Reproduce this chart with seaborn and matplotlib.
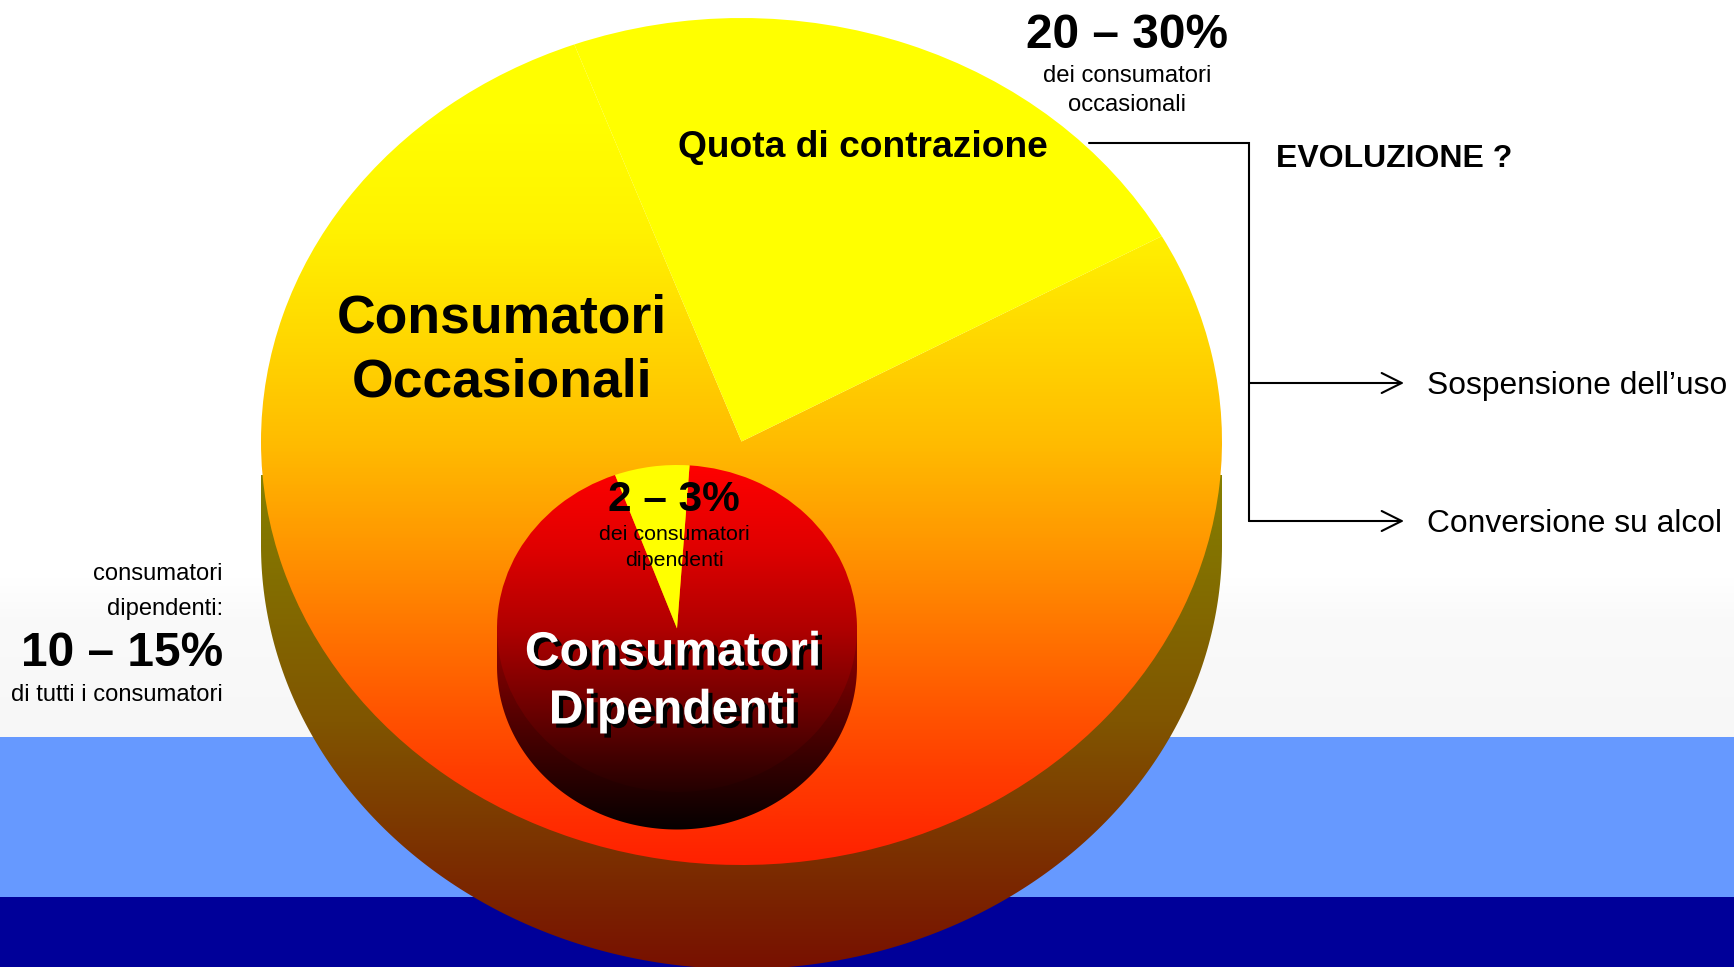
import numpy as np
import matplotlib
matplotlib.use('Agg')
import matplotlib.pyplot as plt
import matplotlib.patheffects as pe
from matplotlib.patches import Polygon
import seaborn as sns

# slice shares
occasionali_sizes = [22.6, 77.4]
occasionali_start = 29
dipendenti_sizes = [6.7, 93.3]
dipendenti_start = 86

occ_top_colors = ['#ffff00', '#fffe00', '#fff200', '#ffd800', '#ffbc00',
                  '#ff9600', '#ff6c00', '#ff4200', '#ff2000']
occ_side_colors = ['#858000', '#805500', '#781000']
dip_top_colors = ['#ff0000', '#e00000', '#b00000', '#6c0000', '#240000']
dip_side_colors = ['#980000', '#4c0000', '#050000']
bg_colors = ['#ffffff', '#fafafa', '#f9f9f9', '#f8f8f8', '#f7f7f7']

W, H = 1734, 967

sns.set_theme(style='white')
plt.rcParams['font.family'] = ['Liberation Sans', 'DejaVu Sans']

fig = plt.figure(figsize=(W / 100, H / 100), dpi=100, facecolor='white')


def pixel_axes(z):
    a = fig.add_axes([0, 0, 1, 1], zorder=z)
    a.set_xlim(0, W)
    a.set_ylim(H, 0)
    a.axis('off')
    a.patch.set_alpha(0)
    return a


def gradient(a, colors, y_top, y_bottom, clip, z=2):
    cmap = sns.blend_palette(colors, as_cmap=True)
    im = a.imshow(np.linspace(0, 1, 512)[:, None], cmap=cmap, aspect='auto',
                  extent=(-1, 1, y_bottom, y_top), origin='upper', zorder=z)
    im.set_clip_path(clip)
    return im


def draw_pie(sizes, start, cx, cy, rx, ry, depth, top_colors, side_colors, side_top, z):
    # ellipse is a plain pie on a stretched axes
    bottom = cy + ry + depth
    a = fig.add_axes([(cx - rx) / W, 1 - bottom / H, 2 * rx / W, (ry * 2 + depth) / H], zorder=z)
    wedges, _ = a.pie(sizes, startangle=start, radius=1, center=(0, 0),
                      colors=['#ffff00', 'none'], wedgeprops={'linewidth': 0})

    to_y = lambda py: (cy - py) / ry
    t = np.linspace(np.pi, 2 * np.pi, 240)
    rim = np.c_[np.cos(t), np.sin(t) - depth / ry]
    side = Polygon(np.vstack([[[-1, 0]], rim, [[1, 0]]]), closed=True,
                   facecolor='none', edgecolor='none')
    a.add_patch(side)
    gradient(a, side_colors, to_y(side_top), to_y(bottom), side, z=0.5)
    gradient(a, top_colors, 1, -1, wedges[1], z=2)
    wedges[0].set_zorder(3)

    a.set_aspect('auto')
    a.set_xlim(-1, 1)
    a.set_ylim(-1 - depth / ry, 1)
    a.axis('off')
    a.patch.set_alpha(0)
    return a


# background bands
bg = pixel_axes(0)
bg.imshow(np.linspace(0, 1, 128)[:, None], cmap=sns.blend_palette(bg_colors, as_cmap=True),
          extent=(0, W, 737, 577), aspect='auto', origin='upper')
bg.axhspan(737, 897, color='#6699ff', lw=0)
bg.axhspan(897, H, color='#000099', lw=0)
bg.set_xlim(0, W)
bg.set_ylim(H, 0)

draw_pie(occasionali_sizes, occasionali_start, 741.5, 441.5, 480.5, 423.5, 104,
         occ_top_colors, occ_side_colors, 475, 1)
draw_pie(dipendenti_sizes, dipendenti_start, 677, 628.5, 180, 163.5, 37.5,
         dip_top_colors, dip_side_colors, 628, 2)

ax = pixel_axes(3)

# connector lines
ax.plot([1089, 1249, 1249], [143, 143, 521], color='black', lw=1.5, solid_joinstyle='miter')
for y in [383, 521]:
    ax.annotate('', xy=(1404, y), xytext=(1249, y),
                arrowprops=dict(arrowstyle='->,head_length=0.8,head_width=0.4', mutation_scale=18,
                                color='black', lw=1.5, shrinkA=0, shrinkB=0))

# labels
ax.text(502, 318.5, 'Consumatori', fontsize=38.5, fontweight='bold', ha='center', va='center', color='black')
ax.text(502, 382.5, 'Occasionali', fontsize=38.5, fontweight='bold', ha='center', va='center', color='black')
ax.text(863, 147.5, 'Quota di contrazione', fontsize=26.7, fontweight='bold', ha='center', va='center', color='black')

ax.text(1127, 36, '20 – 30%', fontsize=34.4, fontweight='bold', ha='center', va='center', color='black')
ax.text(1127, 76, 'dei consumatori', fontsize=17.2, ha='center', va='center', color='black')
ax.text(1127, 105, 'occasionali', fontsize=17.2, ha='center', va='center', color='black')

ax.text(1276, 159, 'EVOLUZIONE ?', fontsize=23, fontweight='bold', ha='left', va='center', color='black')
ax.text(1427, 386, 'Sospensione dell’uso', fontsize=22.85, ha='left', va='center', color='black')
ax.text(1427, 524, 'Conversione su alcol', fontsize=22.85, ha='left', va='center', color='black')

ax.text(223, 574, 'consumatori', fontsize=17.1, ha='right', va='center', color='black')
ax.text(223, 609, 'dipendenti:', fontsize=17.1, ha='right', va='center', color='black')
ax.text(223, 654, '10 – 15%', fontsize=34.4, fontweight='bold', ha='right', va='center', color='black')
ax.text(223, 695, 'di tutti i consumatori', fontsize=17.1, ha='right', va='center', color='black')

ax.text(674, 500, '2 – 3%', fontsize=30.5, fontweight='bold', ha='center', va='center', color='black')
ax.text(674, 535, 'dei consumatori', fontsize=15.4, ha='center', va='center', color='black')
ax.text(674, 561, 'dipendenti', fontsize=15.4, ha='center', va='center', color='black')

shadow = [pe.withSimplePatchShadow(offset=(3, -3), shadow_rgbFace='black', alpha=1)]
for label, y in [('Consumatori', 653), ('Dipendenti', 711)]:
    ax.text(673, y, label, fontsize=34.6, fontweight='bold', ha='center', va='center',
            color='white', path_effects=shadow)

fig.savefig('out.png', dpi=100, facecolor='white')
